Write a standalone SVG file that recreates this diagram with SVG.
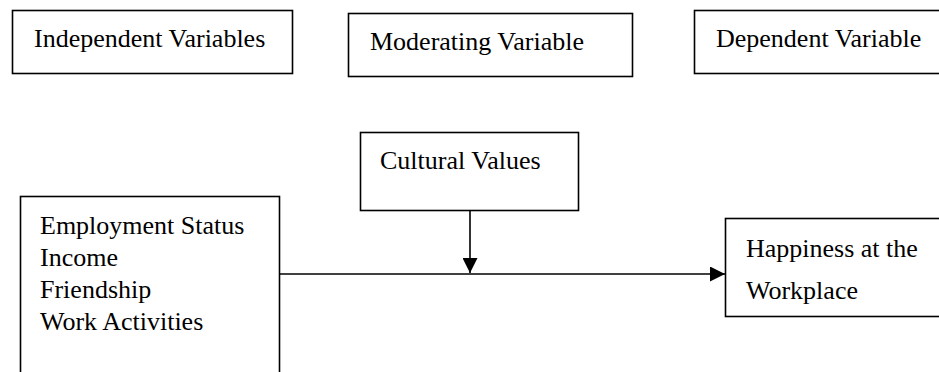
<svg xmlns="http://www.w3.org/2000/svg" width="939" height="372" viewBox="0 0 939 372">
<style>
.box{fill:#fff;stroke:#000;stroke-width:1.6}
.t{font-family:"Liberation Serif","Times New Roman",serif;font-size:26px;fill:#000}
.ln{stroke:#000;stroke-width:1.6;fill:none}
</style>
<defs>
<marker id="ah" viewBox="0 0 15 15" refX="15" refY="7.5" markerWidth="15" markerHeight="15" markerUnits="userSpaceOnUse" orient="auto">
<path d="M0,0 L15,7.5 L0,15 Z" fill="#000"/>
</marker>
</defs>
<rect width="939" height="372" fill="#fff"/>
<g id="indep-label"><rect class="box" x="12.5" y="10.5" width="280" height="63"/><text class="t" x="34" y="47">Independent Variables</text></g>
<g id="mod-label"><rect class="box" x="348.5" y="13.5" width="284" height="63"/><text class="t" x="370" y="50">Moderating Variable</text></g>
<g id="dep-label"><rect class="box" x="694.5" y="10.5" width="260" height="63"/><text class="t" x="716" y="47">Dependent Variable</text></g>
<g id="cultural"><rect class="box" x="360.5" y="132.5" width="218" height="78"/><text class="t" x="380" y="169">Cultural Values</text></g>
<g id="independents"><rect class="box" x="20.5" y="196.5" width="259" height="200"/><text class="t" x="40" y="234">Employment Status</text><text class="t" x="40" y="266">Income</text><text class="t" x="40" y="298">Friendship</text><text class="t" x="40" y="330">Work Activities</text></g>
<g id="happiness"><rect class="box" x="725.5" y="218.5" width="240" height="98"/><text class="t" x="746" y="257">Happiness at the</text><text class="t" x="746" y="299">Workplace</text></g>
<g id="connectors">
<line class="ln" x1="280" y1="274" x2="725" y2="274" marker-end="url(#ah)"/>
<line class="ln" x1="470" y1="211" x2="470" y2="273" marker-end="url(#ah)"/>
</g>
</svg>
